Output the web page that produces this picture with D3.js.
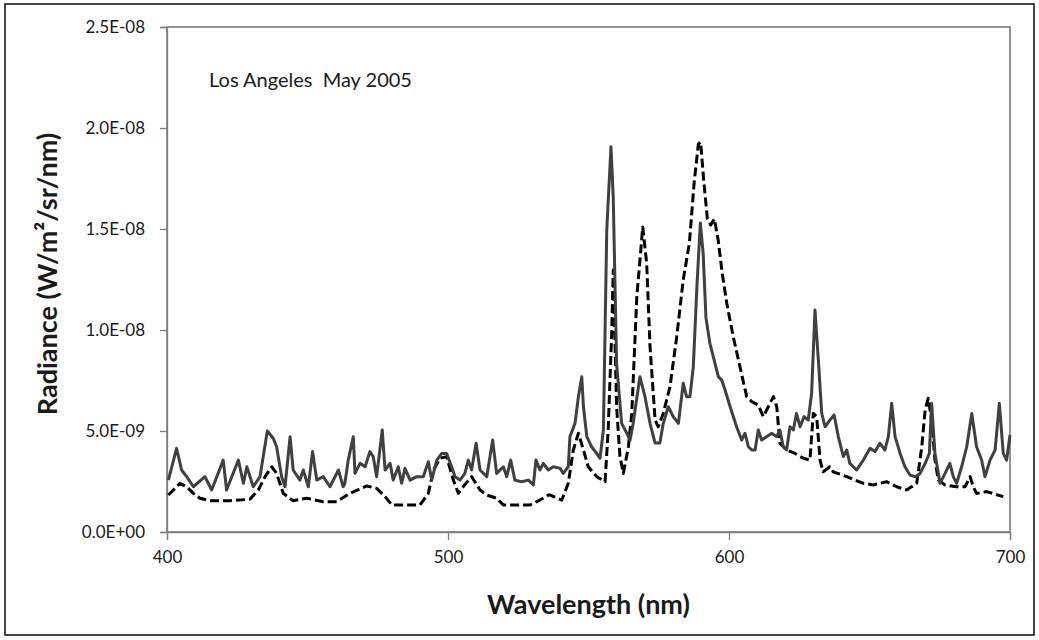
<!DOCTYPE html>
<html>
<head>
<meta charset="utf-8">
<script src="https://cdn.jsdelivr.net/npm/d3@7"></script>
<style>
  body { margin: 0; background: #fff; }
  text { font-family: Lato, "Open Sans", sans-serif; fill: #1a1a1a; }
</style>
</head>
<body>
<div class="spectrum"></div>
<script>
//Chart data: wavelength (nm) and radiance in units of 1E-09 W/m2/sr/nm
var solidSeries = [
  [400.5,2.57],[403.4,4.14],[405.2,3.07],[407,2.74],[409.4,2.24],[413.5,2.74],[415.9,2.08],[420,3.56],
  [421.2,2.08],[425.4,3.56],[427.2,2.41],[428.4,3.23],[430.7,2.24],[433.1,2.74],[435.7,5.0],[437.8,4.64],
  [439,4.22],[440.8,2.74],[442,2.24],[443.8,4.72],[444.9,3.07],[447.3,2.57],[448.5,3.07],[450.3,2.24],
  [451.8,3.98],[453.3,2.57],[455.6,2.74],[458,2.24],[461,3.07],[462.7,2.24],[463.3,2.41],[464.5,3.56],
  [466.3,4.72],[466.9,2.9],[468.7,3.4],[470.5,3.23],[472.2,3.98],[473.4,3.73],[474.6,2.74],[476.6,5.05],
  [477.6,3.07],[479.4,3.4],[480.5,2.57],[482.3,3.23],[483.5,2.41],[484.7,3.15],[486.5,2.57],[488.9,2.74],
  [491.2,2.74],[493,3.48],[494.2,2.57],[496,3.56],[497.8,3.89],[499.5,3.89],[501.3,3.23],[502.5,2.74],
  [504.3,2.57],[506,2.9],[507.2,3.56],[508.4,3.07],[510,4.39],[511.4,3.07],[513.8,2.74],[515.9,4.55],
  [517.3,2.9],[519.7,3.23],[520.9,2.74],[522.3,3.56],[523.8,2.57],[526.2,2.49],[528.6,2.57],[530.4,2.33],
  [531.3,3.56],[532.7,3.07],[533.9,3.4],[535.7,3.07],[537.5,3.23],[539.9,3.15],[541,2.9],[542.8,3.23],
  [543.4,4.72],[545.2,5.38],[546.4,6.7],[547.6,7.69],[548.2,6.2],[549.4,4.72],[551.1,4.22],[552.9,3.89],
  [554.1,3.65],[555.3,5.05],[556.5,14.95],[558,19.07],[558.8,16.6],[560,8.35],[561.8,5.38],[563.6,4.9],
  [564.8,4.55],[565.9,5.38],[568.3,7.69],[570.1,6.7],[571.9,5.38],[573.7,4.4],[575.4,4.4],[576.6,5.38],
  [578.4,6.2],[580.2,5.7],[582,5.38],[583.7,7.36],[584.9,6.7],[586.1,6.7],[587.3,8.18],[588.6,12.2],
  [589.8,15.3],[590.8,13.8],[591.8,10.6],[593.2,9.34],[594.4,8.68],[596.2,7.69],[597.4,7.52],[598.6,7.03],
  [600.4,6.2],[602.7,5.21],[604.5,4.55],[605.7,4.89],[606.9,4.22],[608.1,4.06],[609.3,4.06],[610.4,5.05],
  [611.6,4.55],[613.4,4.72],[615.2,4.89],[617,4.72],[618.1,5.05],[619.3,4.22],[620.5,4.06],[621.7,5.21],
  [622.9,5.05],[624,5.87],[625.3,5.21],[626.7,5.71],[628.2,5.54],[629.4,6.87],[630.6,10.99],[631.8,8.51],
  [633,5.87],[634.2,5.21],[635.9,5.54],[637.4,5.8],[638.9,4.72],[640.7,3.73],[641.9,4.06],[643,3.4],
  [645.4,3.07],[647.8,3.56],[650.2,4.14],[652,3.98],[653.7,4.39],[655.5,4.06],[656.7,4.72],[657.9,6.37],
  [659.1,4.72],[660.9,3.89],[662.6,3.23],[664.4,2.82],[666.2,2.74],[668,2.9],[669.8,3.4],[671.3,3.89],
  [672.1,6.37],[673.3,3.89],[675.1,2.41],[676.9,2.9],[678.6,3.4],[679.8,2.74],[681,2.41],[682.8,3.23],
  [684.6,4.22],[686.4,5.87],[688.1,4.22],[689.9,3.56],[691.1,2.74],[692.9,3.56],[694.7,4.06],[696.2,6.37],
  [697.6,3.89],[698.8,3.56],[700,4.8]
];

var dashedSeries = [
  [400.5,1.83],[404.6,2.41],[407,2.24],[409.4,1.91],[411.7,1.67],[415.3,1.55],[422.4,1.55],[429.5,1.62],
  [432.5,2.08],[434.9,2.74],[437.3,3.23],[439,2.9],[441.4,1.91],[444.9,1.55],[449.7,1.67],[455.6,1.5],
  [460.4,1.5],[465.1,1.91],[471.1,2.28],[474.6,2.16],[477.6,1.75],[480,1.34],[490,1.34],[493,1.91],
  [494.8,3.07],[497.2,3.65],[499.5,3.73],[501.9,2.57],[503.7,1.91],[505.4,2.24],[508.4,2.74],[511.4,2.08],
  [513.8,1.83],[517.3,1.67],[519.7,1.34],[529.2,1.34],[532.7,1.58],[535.7,1.83],[536.3,1.83],[540.5,1.58],
  [542.8,2.41],[544.6,4.06],[546.4,4.89],[548.2,4.06],[549.9,3.23],[552.9,2.74],[555.9,2.49],[557,5.05],
  [558.3,10],[558.8,12.97],[560,6.2],[561.2,3.73],[562.4,2.9],[564.2,4.22],[565.4,5.87],[567.2,11.65],
  [569.3,15.1],[570.7,13.3],[571.9,9.17],[573.7,5.54],[574.8,5.21],[576.6,5.87],[579,7.19],[581.4,9.67],
  [583.7,12.47],[585.9,14.3],[587.6,17.3],[589.1,19.2],[589.9,19.3],[591,17.4],[592.3,15.5],[593.5,15.2],
  [594.8,15.5],[596.2,14.4],[597.6,12.8],[599.2,11.32],[601.5,9.67],[603.9,8.18],[606.3,6.7],[608.1,6.45],
  [610.4,6.29],[612.2,5.71],[614,6.2],[615.8,6.7],[617,6.2],[618.1,4.4],[620.5,4.06],[623.5,3.89],
  [626.4,3.65],[628.8,3.56],[630,5.87],[631.2,5.71],[632.4,3.56],[633.5,2.98],[635.9,3.23],[637.1,2.98],
  [641.9,2.74],[647.8,2.41],[651.4,2.33],[656.1,2.49],[659.7,2.24],[663.2,2.08],[666.8,2.41],[668.6,4.22],
  [669.8,6.04],[670.9,6.62],[672.1,5.54],[673.3,3.56],[674.5,2.57],[676.9,2.33],[681,2.24],[684,2.24],
  [685.8,2.74],[686.9,2.24],[688.1,1.91],[691.7,2.0],[697.6,1.75]
];

var unit = 1e-9;
var xTicks = [400, 500, 600, 700];
var yTicks = [0, 5e-9, 1e-8, 1.5e-8, 2e-8, 2.5e-8];
var yTickLabels = ["0.0E+00", "5.0E-09", "1.0E-08", "1.5E-08", "2.0E-08", "2.5E-08"];
var chartTitle = "Los Angeles  May 2005";

//Canvas dimensions and plot area
var width = 1039,
    height = 640;

var plot = { left: 167, right: 1010, top: 27, bottom: 532 };

var svg = d3.select(".spectrum")
            .append("svg")
            .attr("width", width)
            .attr("height", height);

//Outer frame
svg.append("rect")
   .attr("x", 5).attr("y", 4)
   .attr("width", 1029).attr("height", 631)
   .attr("fill", "none")
   .attr("stroke", "#1a1a1a")
   .attr("stroke-width", 1.6);

//Scales
var x = d3.scaleLinear().domain([400, 700]).range([plot.left, plot.right]);
var y = d3.scaleLinear().domain([0, 2.5e-8]).range([plot.bottom, plot.top]);

//Plot area border
svg.append("rect")
   .attr("x", plot.left).attr("y", plot.top)
   .attr("width", plot.right - plot.left).attr("height", plot.bottom - plot.top)
   .attr("fill", "none")
   .attr("stroke", "#595959")
   .attr("stroke-width", 1.3);

//Axes
var xAxis = svg.append("g")
               .attr("transform", "translate(0," + plot.bottom + ")")
               .call(d3.axisBottom(x).tickValues(xTicks).tickSize(8).tickPadding(11).tickFormat(d3.format("d")));

var yAxis = svg.append("g")
               .attr("transform", "translate(" + plot.left + ",0)")
               .call(d3.axisLeft(y).tickValues(yTicks).tickSize(7).tickPadding(15)
                       .tickFormat(function(d, i) { return yTickLabels[i]; }));

[xAxis, yAxis].forEach(function(a) {
  a.select(".domain").attr("stroke", "#7f7f7f").attr("stroke-width", 1.3);
  a.selectAll(".tick line").attr("stroke", "#7f7f7f").attr("stroke-width", 1.3);
  a.selectAll(".tick text")
   .attr("font-family", "Lato, sans-serif")
   .attr("font-size", 17)
   .attr("fill", "#1a1a1a");
});

//Lines
var line = d3.line()
             .x(function(d) { return x(d[0]); })
             .y(function(d) { return y(d[1] * unit); });

svg.append("path")
   .datum(dashedSeries)
   .attr("d", line)
   .attr("fill", "none")
   .attr("stroke", "#000")
   .attr("stroke-width", 3)
   .attr("stroke-dasharray", "9,4")
   .attr("stroke-linejoin", "round");

svg.append("path")
   .datum(solidSeries)
   .attr("d", line)
   .attr("fill", "none")
   .attr("stroke", "#404040")
   .attr("stroke-width", 3)
   .attr("stroke-linejoin", "round");

//Annotation
svg.append("text")
   .attr("x", 209)
   .attr("y", 87)
   .attr("font-size", 20)
   .style("white-space", "pre")
   .text(chartTitle);

//Axis titles
svg.append("text")
   .attr("x", (plot.left + plot.right) / 2)
   .attr("y", 614)
   .attr("text-anchor", "middle")
   .attr("font-size", 27)
   .attr("font-weight", "bold")
   .text("Wavelength (nm)");

svg.append("text")
   .attr("transform", "translate(57,274) rotate(-90)")
   .attr("text-anchor", "middle")
   .attr("font-size", 27)
   .attr("font-weight", "bold")
   .text("Radiance (W/m²/sr/nm)");
</script>
</body>
</html>
